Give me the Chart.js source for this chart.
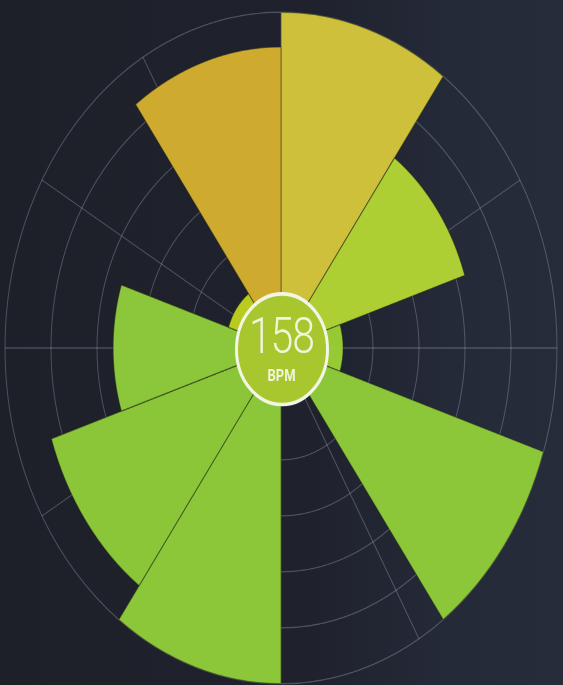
<!DOCTYPE html>
<html>
<head>
<meta charset="utf-8">
<script src="https://cdn.jsdelivr.net/npm/chart.js@4/dist/chart.umd.min.js"></script>
<style>
	html, body {
		margin: 0;
		width: 563px;
		height: 685px;
		overflow: hidden;
	}
	body {
		background: linear-gradient(90deg, #1e2029 0%, #1f222d 55%, #252a39 80%, #272c3b 100%);
	}
	#stage {
		position: absolute;
		left: 0;
		top: 0;
		width: 563px;
		height: 563px;
		transform: scale(1, 1.2167);
		transform-origin: 0 0;
	}
	#stage canvas {
		position: absolute;
		left: 0;
		top: 0;
		width: 563px;
		height: 563px;
	}
	.hub {
		position: absolute;
		left: 234.5px;
		top: 240px;
		width: 94px;
		height: 94px;
		box-sizing: border-box;
		border: 3px solid #f3f6e6;
		border-radius: 50%;
		background: #a8c62d;
	}
	.bpm-value, .bpm-unit {
		position: absolute;
		left: 0;
		width: 563px;
		text-align: center;
		color: #f1f5dc;
		font-family: Roboto, 'Open Sans', sans-serif;
	}
	.bpm-value {
		top: 256px;
		font-size: 41px;
		line-height: 41px;
		font-weight: 300;
		letter-spacing: -1px;
	}
	.bpm-unit {
		top: 302px;
		font-size: 13px;
		line-height: 13px;
		font-weight: 700;
	}
</style>
</head>
<body>
<div id="stage">
	<canvas id="grid" width="563" height="563"></canvas>
	<canvas id="bars" width="563" height="563"></canvas>
	<div class="hub"></div>
	<div class="bpm-value">158</div>
	<div class="bpm-unit">BPM</div>
</div>
<script>
const labels = ['1', '2', '3', '4', '5', '6', '7', '8', '9', '10'];
const values = [6, 4.2, 1.35, 6, 0.9, 6, 5.25, 3.65, 1.2, 5.38];
const colors = ['#d5c53c', '#b2d535', '#99cf35', '#8fcc3a', '#8fcc3a', '#8fcc3a', '#8eca39', '#90cb3b', '#bfd11f', '#d4af2f'];
const gridSpokes = ['0', '30', '60', '90', '120', '150', '180', '210', '240', '270', '300', '330'];
const scaleMax = 6;

function withAlpha(hex, a) {
	const n = parseInt(hex.slice(1), 16);
	return `rgba(${(n >> 16) & 255}, ${(n >> 8) & 255}, ${n & 255}, ${a})`;
}

const common = {
	responsive: false,
	animation: false,
	devicePixelRatio: 2,
	layout: { padding: { top: 10 } },
	plugins: { legend: { display: false }, tooltip: { enabled: false } },
};

// rings and 30 degree spokes
new Chart(document.getElementById('grid'), {
	type: 'polarArea',
	data: { labels: gridSpokes, datasets: [] },
	options: {
		...common,
		scales: {
			r: {
				min: 0,
				max: scaleMax,
				ticks: { display: false, stepSize: 1 },
				grid: { circular: true, color: 'rgba(190, 196, 210, 0.3)', lineWidth: 1 },
				angleLines: { display: true, color: 'rgba(190, 196, 210, 0.3)', lineWidth: 1 },
				pointLabels: { display: false },
			},
		},
	},
});

new Chart(document.getElementById('bars'), {
	type: 'polarArea',
	data: {
		labels: labels,
		datasets: [
			{
				data: values,
				backgroundColor: colors.map((c) => withAlpha(c, 0.97)),
				borderColor: 'rgba(35, 40, 25, 0.55)',
				borderWidth: 1,
			},
		],
	},
	options: {
		...common,
		scales: {
			r: {
				min: 0,
				max: scaleMax,
				ticks: { display: false, stepSize: 1 },
				grid: { display: false },
				angleLines: { display: false },
				pointLabels: { display: false },
			},
		},
	},
});
</script>
</body>
</html>
